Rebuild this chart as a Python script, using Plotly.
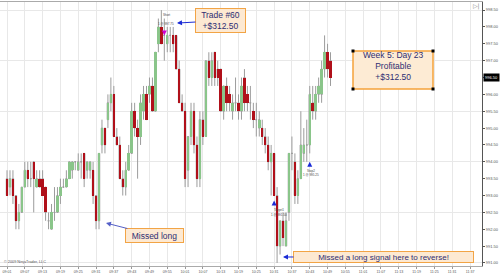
import plotly.graph_objects as go

# ---- data: 1-minute bars starting 09:01 ----
open_ = [993.50, 993.25, 993.50, 993.00, 992.25, 992.50, 993.25, 993.75, 993.50, 994.00,
         993.25, 993.50, 993.50, 993.25, 992.25, 992.00, 992.50, 992.50, 993.00, 993.25,
         993.25, 993.50, 993.75, 994.00, 993.75, 994.00, 994.25, 993.75, 993.75, 993.75,
         993.00, 992.25, 994.50, 995.00, 995.25, 995.75, 996.00, 994.75, 994.50, 993.50,
         993.25, 993.75, 994.25, 995.50, 995.00, 994.75, 995.50, 996.00, 996.00, 996.25,
         995.50, 997.50, 998.00, 997.75, 997.50, 997.75, 997.75, 997.75, 996.75, 995.75,
         995.50, 993.75, 994.75, 995.50, 994.50, 993.50, 995.25, 994.75, 997.00, 996.50,
         997.25, 996.75, 996.75, 995.50, 996.25, 996.00, 995.50, 995.75, 995.75, 995.50,
         996.50, 996.00, 995.75, 995.50, 995.25, 995.00, 995.00, 994.75, 994.50, 994.00,
         994.25, 993.00, 991.50, 992.25, 991.50, 992.50, 994.25, 994.00, 993.00, 993.50,
         994.25, 994.50, 994.50, 995.75, 995.50, 996.00, 996.00, 996.75, 997.25, 997.00]
high = [993.75, 993.75, 993.75, 993.00, 992.75, 993.25, 994.00, 994.00, 994.00, 994.00,
        993.75, 993.75, 993.75, 993.25, 992.50, 992.75, 993.25, 993.25, 993.50, 993.50,
        993.75, 994.00, 994.00, 994.00, 994.25, 994.25, 994.25, 994.00, 994.00, 994.00,
        993.00, 994.25, 995.25, 995.00, 996.00, 996.50, 996.25, 995.00, 994.75, 993.75,
        994.00, 994.50, 995.75, 995.75, 995.25, 996.00, 996.25, 996.25, 996.50, 996.50,
        997.25, 998.25, 998.50, 998.25, 998.00, 998.00, 998.00, 997.75, 997.00, 996.00,
        995.75, 994.75, 995.75, 995.75, 994.75, 995.50, 995.50, 997.00, 997.25, 997.25,
        997.25, 997.00, 996.75, 996.25, 996.50, 996.25, 996.00, 996.50, 996.00, 996.50,
        996.75, 996.25, 996.25, 995.75, 995.75, 995.50, 995.25, 995.00, 994.75, 994.50,
        994.25, 993.25, 992.25, 992.50, 992.50, 994.25, 994.75, 994.25, 993.75, 995.50,
        995.00, 995.25, 996.25, 996.25, 996.25, 996.50, 997.00, 997.75, 997.50, 997.25]
low = [993.00, 993.00, 992.75, 992.00, 992.00, 992.50, 993.25, 993.25, 993.25, 992.50,
       993.25, 993.25, 993.00, 992.25, 992.00, 992.00, 992.25, 992.50, 992.75, 993.25,
       993.25, 993.50, 993.50, 993.75, 993.75, 993.50, 993.25, 993.50, 993.50, 992.75,
       992.00, 992.00, 994.25, 994.25, 995.00, 995.50, 994.75, 994.50, 993.50, 993.00,
       993.00, 993.75, 994.25, 994.75, 993.50, 994.50, 995.25, 995.25, 995.75, 995.50,
       995.50, 997.25, 997.50, 997.00, 997.25, 997.25, 997.25, 996.75, 995.75, 995.50,
       993.25, 993.25, 994.50, 994.25, 993.25, 993.25, 994.50, 994.75, 996.25, 996.25,
       996.25, 996.25, 995.50, 995.25, 995.50, 995.50, 995.25, 995.50, 995.25, 995.25,
       995.50, 995.50, 995.25, 995.00, 994.75, 994.75, 994.50, 994.25, 993.75, 993.00,
       993.00, 991.00, 991.25, 991.50, 991.50, 992.25, 993.75, 992.75, 992.75, 993.50,
       994.00, 994.00, 994.25, 995.25, 995.25, 995.75, 995.75, 996.50, 996.50, 996.25]
close = [993.00, 993.50, 993.00, 992.25, 992.50, 993.25, 993.75, 993.50, 993.50, 993.50,
         993.50, 993.25, 993.00, 992.50, 992.25, 992.50, 992.50, 993.00, 993.25, 993.25,
         993.50, 994.00, 994.00, 994.00, 994.00, 994.00, 993.50, 994.00, 994.00, 993.00,
         992.25, 994.25, 995.00, 994.50, 995.75, 996.00, 994.75, 994.50, 993.50, 993.25,
         993.75, 994.25, 995.50, 995.00, 994.75, 995.75, 996.00, 995.25, 996.25, 995.50,
         997.25, 998.00, 997.50, 997.75, 997.75, 997.75, 997.50, 996.75, 995.75, 995.50,
         993.50, 994.75, 995.50, 994.50, 993.50, 995.25, 994.75, 997.00, 996.50, 997.00,
         996.50, 996.50, 995.50, 996.25, 995.75, 995.75, 995.75, 995.75, 995.50, 996.25,
         995.75, 995.75, 995.75, 995.25, 995.25, 995.25, 994.75, 994.50, 994.00, 994.25,
         993.00, 991.50, 992.25, 991.75, 992.25, 994.25, 994.25, 993.00, 993.50, 994.50,
         994.50, 994.50, 996.00, 995.50, 996.00, 996.25, 996.75, 997.25, 996.75, 996.50]

start_minute = 9 * 60 + 1
label_step = 6
label_count = 27
price_ticks_from, price_tick_step = 991.0, 0.5
grid_step = 1.5

# execution markers
sig_k = [53, 90, 102]
sig_price = [997.75, 992.85, 994.0]
sig_symbol = ["arrow-down", "arrow-up", "arrow-up"]
sig_color = ["#d000d0", "#1a2bd6", "#1a2bd6"]

bar_x = list(range(len(open_)))
tick_vals = [i * label_step for i in range(label_count)]
tick_text = []
for v in tick_vals:
    m = start_minute + v
    tick_text.append(f"{m // 60:02d}:{m % 60:02d}")

GREEN = "#8ac58a"
RED = "#b0101a"
WICK = "#9c9c9c"
TXT = "#2e2e72"
FONT = "Liberation Sans, Arial, sans-serif"

fig = go.Figure()
fig.add_trace(go.Candlestick(
    x=bar_x, open=open_, high=high, low=low, close=close,
    increasing=dict(line=dict(color=WICK, width=1), fillcolor=WICK),
    decreasing=dict(line=dict(color=WICK, width=1), fillcolor=WICK),
    whiskerwidth=0, yaxis="y", hoverinfo="skip", showlegend=False))

body_base = [min(o, c) for o, c in zip(open_, close)]
body_h = [abs(c - o) for o, c in zip(open_, close)]
body_col = [GREEN if c > o else (RED if c < o else WICK) for o, c in zip(open_, close)]
fig.add_trace(go.Bar(x=bar_x, base=body_base, y=body_h, width=0.82,
                     marker=dict(color=body_col, line=dict(width=0)),
                     yaxis="y2", hoverinfo="skip", showlegend=False))
fig.add_trace(go.Scatter(x=sig_k, y=sig_price, mode="markers", yaxis="y2",
                         marker=dict(symbol=sig_symbol, color=sig_color, size=5,
                                     line=dict(width=0)),
                         hoverinfo="skip", showlegend=False))

# pixel helpers for layout decorations
PW, PH, PB = 482.0, 264.0, 266.0
def px(xp):
    return xp / PW
def py(yp):
    return (PB - yp) / PH

yrange = [990.91, 998.74]
xrange_ = [-2.36, 160.04]

fig.update_layout(
    width=500, height=279, margin=dict(l=0, r=18, t=2, b=13),
    paper_bgcolor="white", plot_bgcolor="white",
    bargap=0, showlegend=False,
    xaxis=dict(range=xrange_, tickvals=tick_vals, ticktext=tick_text,
               showgrid=True, gridcolor="#e8e8e8", gridwidth=1, zeroline=False,
               ticks="outside", ticklen=2, tickcolor="#999",
               tickfont=dict(size=3.6, color="#555", family=FONT),
               showline=True, linecolor="#aaa", linewidth=1, mirror=True,
               rangeslider=dict(visible=False), fixedrange=True),
    yaxis=dict(range=yrange, tick0=price_ticks_from, dtick=grid_step,
               showgrid=True, gridcolor="#e8e8e8", zeroline=False,
               showticklabels=False, ticks="", side="right"),
    yaxis2=dict(range=yrange, overlaying="y", side="right",
                tick0=price_ticks_from, dtick=price_tick_step, tickformat=".2f",
                showgrid=False, zeroline=False, ticks="outside", ticklen=2,
                tickcolor="#555", tickfont=dict(size=4, color="#555", family=FONT),
                showline=True, linecolor="#555", linewidth=1),
)

def k_of(xp):
    return (xp - 7) / 2.968
def p_of(yp):
    return 998.5 - (yp - 10) / 33.73

ann = []
ann.append(dict(x=k_of(177), y=p_of(23), xref="x", yref="y", ax=43.5, ay=-2.5,
                text="Trade #60<br>+$312.50", showarrow=True, arrowhead=2, arrowsize=1,
                arrowwidth=1, arrowcolor="#1a2bd6",
                font=dict(size=8.5, color=TXT, family=FONT),
                bgcolor="#fde9d2", bordercolor="#f2a445", borderwidth=1, borderpad=0,
                width=49, height=23))
ann.append(dict(x=k_of(106), y=p_of(223), xref="x", yref="y", ax=48.5, ay=12.5,
                text="Missed long", showarrow=True, arrowhead=2, arrowsize=1,
                arrowwidth=1, arrowcolor="#5560c8",
                font=dict(size=8.5, color=TXT, family=FONT),
                bgcolor="#fde9d2", bordercolor="#f2a445", borderwidth=1, borderpad=0,
                width=57, height=13))
ann.append(dict(x=k_of(283), y=p_of(257), xref="x", yref="y", ax=100.5, ay=0,
                text="Missed a long signal here to reverse!", showarrow=True, arrowhead=2,
                arrowsize=1, arrowwidth=1, arrowcolor="#1a2bd6",
                font=dict(size=8, color=TXT, family=FONT),
                bgcolor="#fde9d2", bordercolor="#f2a445", borderwidth=1, borderpad=0,
                width=179, height=10))
ann.append(dict(x=px(393), y=py(66), xref="paper", yref="paper", showarrow=False,
                xanchor="center", yanchor="middle",
                text="Week 5: Day 23<br>Profitable<br>+$312.50",
                font=dict(size=8.5, color=TXT, family=FONT)))
# current price label
ann.append(dict(x=1, y=close[-1], xref="paper", yref="y2", xanchor="left", yanchor="middle",
                xshift=1, showarrow=False, text=f"{close[-1]:.2f}", bgcolor="black",
                font=dict(size=4, color="white", family=FONT), borderpad=1))
# execution texts
tiny = dict(size=3, color="#444", family=FONT)
for xp, yp, t in [(166, 15, "Short"), (166, 24, "1 @ 997.75"), (279, 210, "Target1"),
                  (279, 215, "1 @ 991.50"), (311, 171, "Stop2"), (311, 175, "1 @ 995.25")]:
    ann.append(dict(x=k_of(xp), y=p_of(yp), xref="x", yref="y", showarrow=False,
                    xanchor="center", yanchor="middle", text=t, font=tiny))
ann.append(dict(x=px(2), y=py(262), xref="paper", yref="paper", xanchor="left",
                yanchor="middle", showarrow=False, text="© 2009 NinjaTrader, LLC",
                font=dict(size=3.8, color="#555", family=FONT)))
ann.append(dict(x=px(476), y=py(6), xref="paper", yref="paper", showarrow=False,
                xanchor="center", yanchor="middle",
                text="▷|", font=dict(size=6, color="#888", family="DejaVu Sans")))
fig.update_layout(annotations=ann)

shapes = [dict(type="rect", xref="paper", yref="paper",
               x0=px(353), x1=px(433), y0=py(89), y1=py(51),
               fillcolor="#fdebd4", line=dict(color="#f5a33a", width=1.5), layer="above")]
for cx, cy in [(353, 51), (433, 51), (353, 89), (433, 89)]:
    shapes.append(dict(type="rect", xref="paper", yref="paper",
                       x0=px(cx - 1.5), x1=px(cx + 1.5), y0=py(cy + 1.5), y1=py(cy - 1.5),
                       fillcolor="black", line=dict(width=0), layer="above"))
fig.update_layout(shapes=shapes)

fig.write_html("out.html")
